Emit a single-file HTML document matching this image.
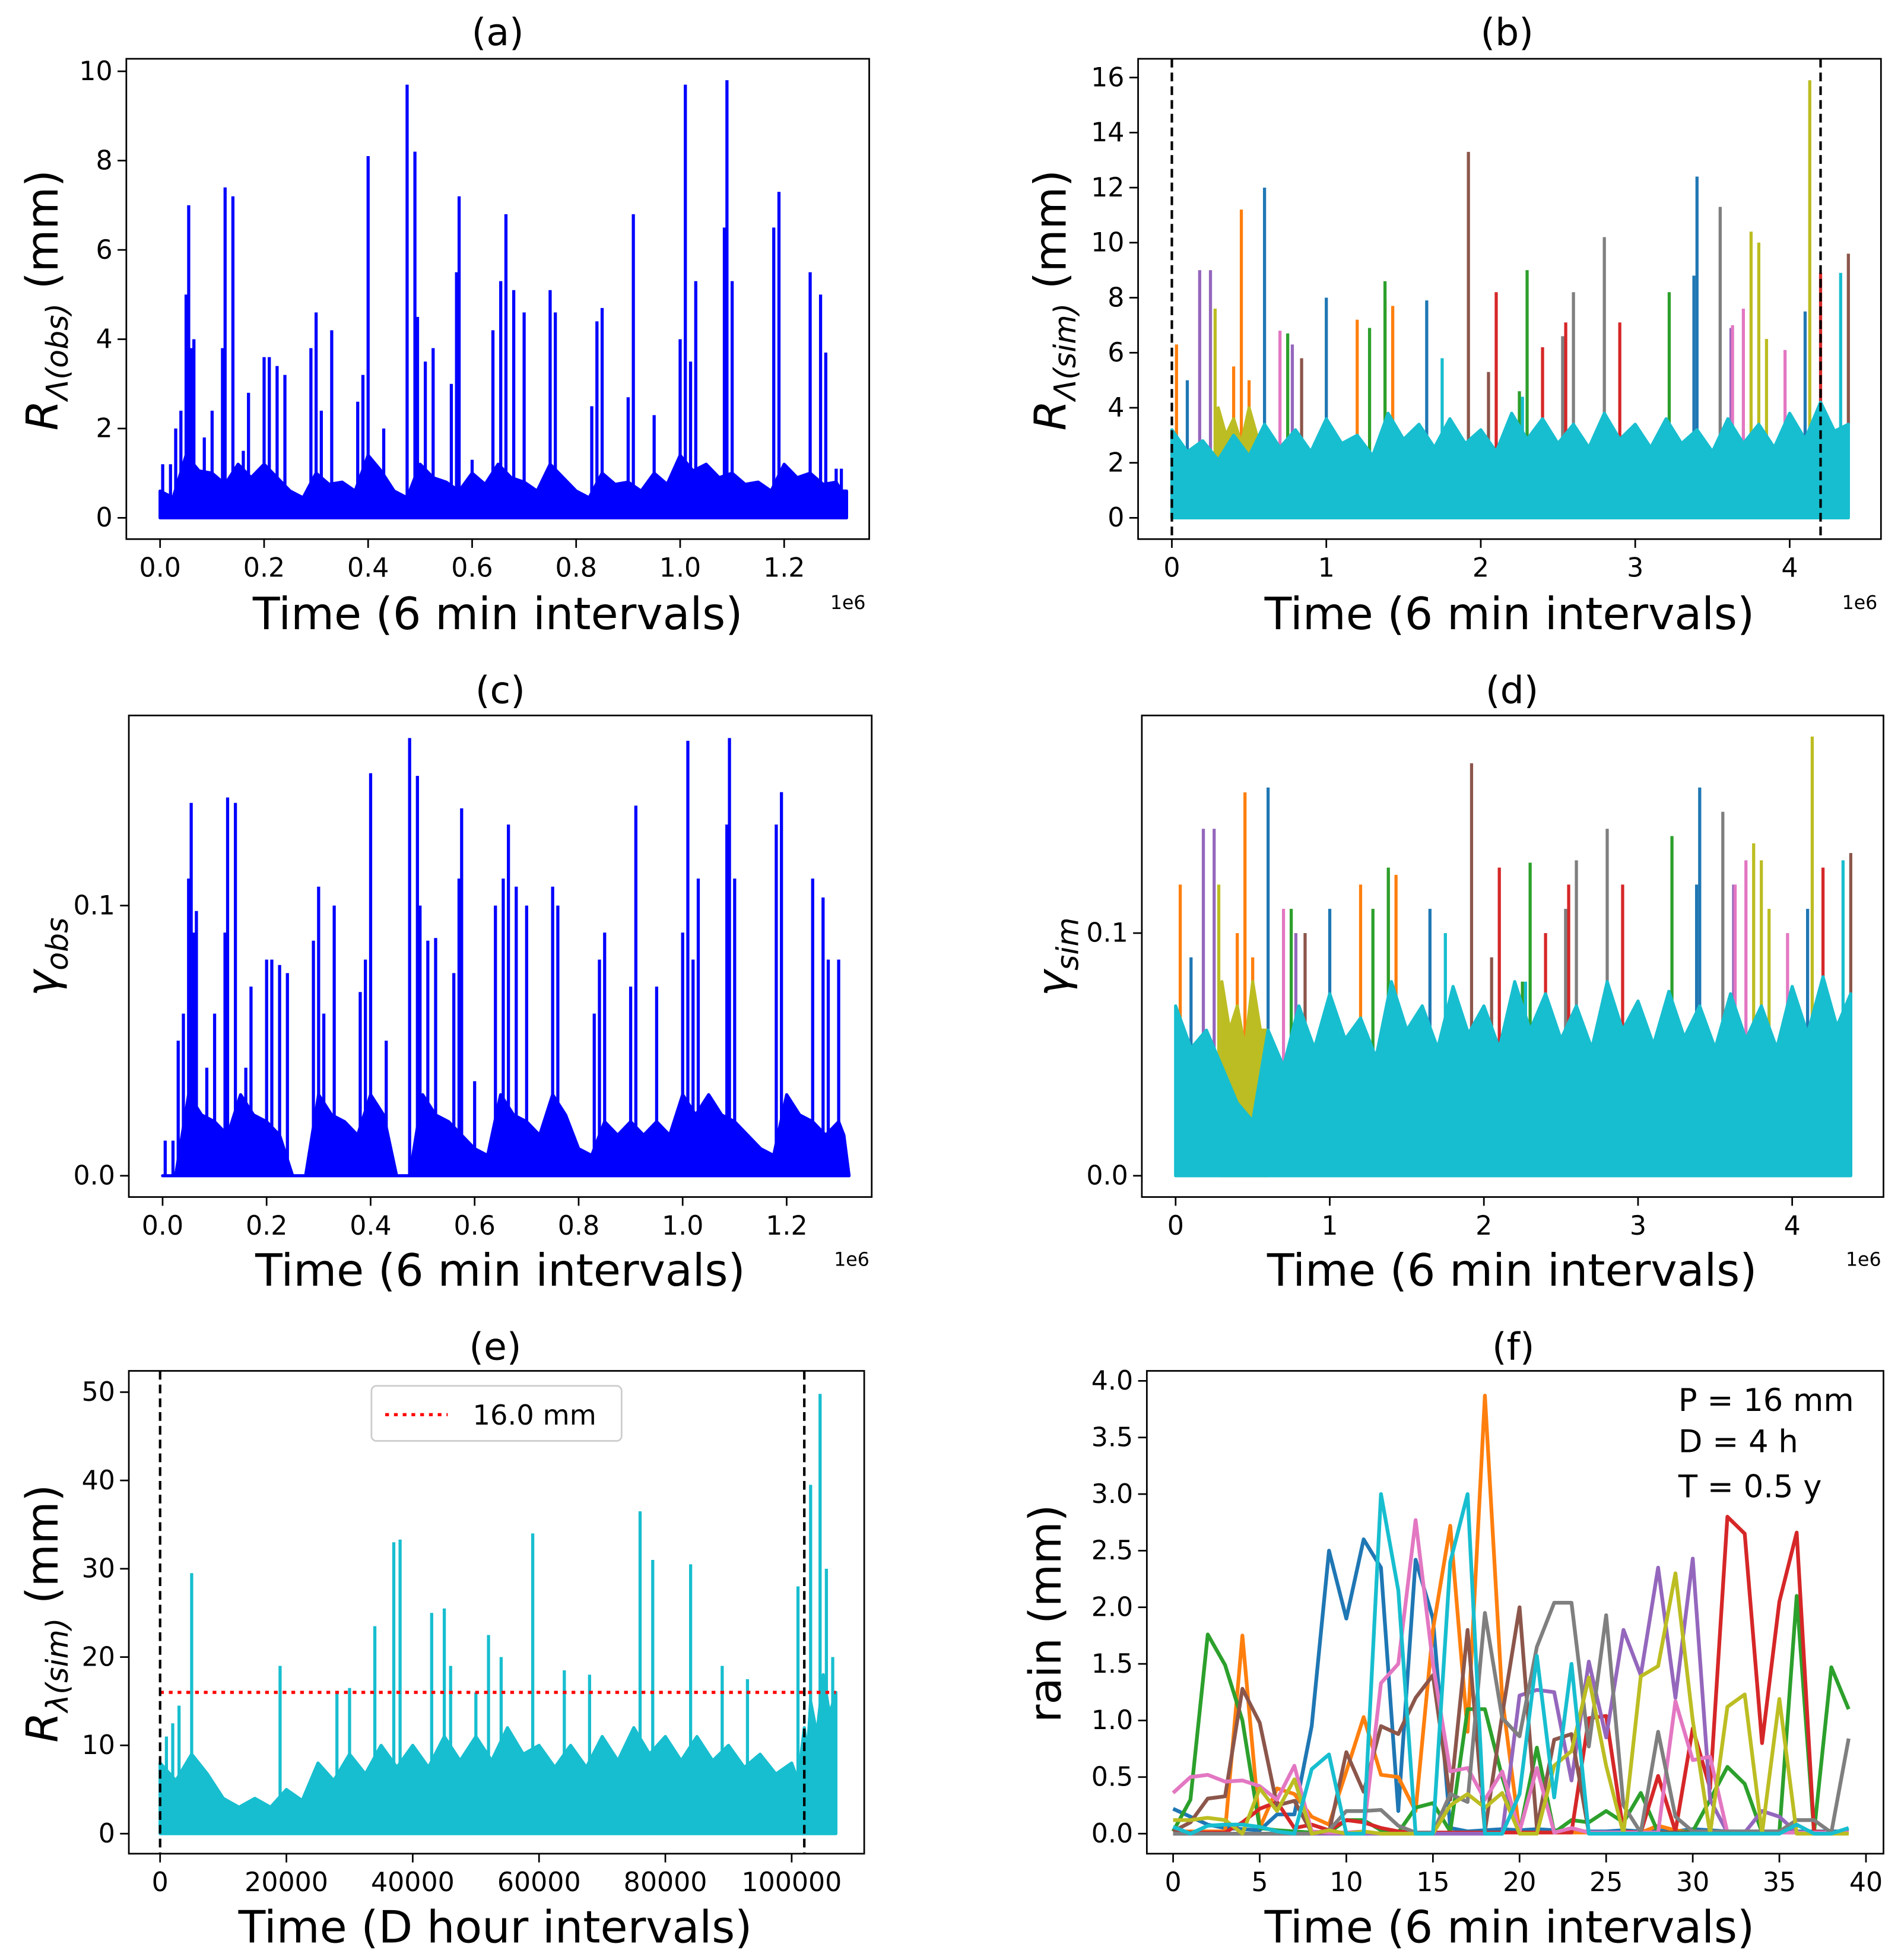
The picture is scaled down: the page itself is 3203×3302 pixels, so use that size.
<!DOCTYPE html>
<html><head><meta charset="utf-8"><style>
html,body{margin:0;padding:0;background:#fff;}
svg{display:block;font-family:"DejaVu Sans","Liberation Sans",sans-serif;}
</style></head><body>
<svg id="fig" xmlns="http://www.w3.org/2000/svg" width="3203" height="3302" viewBox="0 0 1520 1567"></svg>
<script>
// ---------- data ----------
const aX=[0.005,0.02,0.03,0.04,0.05,0.055,0.06,0.065,0.085,0.1,0.12,0.125,0.14,0.16,0.17,0.2,0.21,0.225,0.24,0.29,0.3,0.31,0.33,0.38,0.39,0.4,0.43,0.475,0.49,0.495,0.51,0.525,0.56,0.57,0.575,0.6,0.64,0.655,0.665,0.68,0.7,0.75,0.76,0.83,0.84,0.85,0.9,0.91,0.95,1.0,1.01,1.02,1.03,1.085,1.09,1.1,1.18,1.19,1.25,1.27,1.28,1.3,1.31];
const aV=[1.2,1.2,2,2.4,5,7,3.8,4,1.8,2.4,3.8,7.4,7.2,1.5,2.8,3.6,3.6,3.4,3.2,3.8,4.6,2.4,4.2,2.6,3.2,8.1,2,9.7,8.2,4.5,3.5,3.8,3,5.5,7.2,1.3,4.2,5.3,6.8,5.1,4.6,5.1,4.6,2.5,4.4,4.7,2.7,6.8,2.3,4,9.7,3.5,5.3,6.5,9.8,5.3,6.5,7.3,5.5,5,3.7,1.1,1.1];
const cV=[0.013,0.013,0.05,0.06,0.11,0.138,0.09,0.098,0.04,0.06,0.09,0.14,0.138,0.04,0.07,0.08,0.08,0.078,0.075,0.087,0.107,0.06,0.1,0.068,0.08,0.149,0.05,0.162,0.148,0.1,0.087,0.088,0.075,0.11,0.136,0.035,0.1,0.11,0.13,0.107,0.1,0.107,0.1,0.06,0.08,0.09,0.07,0.137,0.07,0.09,0.161,0.08,0.11,0.13,0.162,0.11,0.13,0.142,0.11,0.103,0.08,0.08,0.007];
const baseX=[0,0.05,0.1,0.15,0.2,0.25,0.3,0.35,0.4,0.45,0.5,0.55,0.6,0.65,0.7,0.75,0.8,0.85,0.9,0.95,1.0,1.05,1.1,1.15,1.2,1.25,1.3,1.32];
const baseA=[0.6,1.4,1.0,1.2,1.2,0.6,1.0,0.8,1.4,0.6,1.2,0.8,1.0,1.2,0.8,1.2,0.6,1.0,0.8,1.0,1.4,1.2,1.0,0.8,1.2,1.0,0.8,0.6];
const baseC=[0.0,0.03,0.02,0.03,0.02,0.0,0.03,0.02,0.03,0.0,0.03,0.02,0.01,0.03,0.02,0.03,0.01,0.02,0.02,0.02,0.03,0.03,0.02,0.01,0.03,0.02,0.02,0.0];
const colors=["#1f77b4","#ff7f0e","#2ca02c","#d62728","#9467bd","#8c564b","#e377c2","#7f7f7f","#bcbd22","#17becf"];
const bX=[[0.1,0.6,1.0,1.65,3.38,3.4,4.1],[0.03,0.4,0.45,0.5,1.2,1.38,1.43],[0.75,1.28,1.38,2.25,2.3,3.22],[2.1,2.4,2.55,2.9,4.2],[0.18,0.25,0.78,3.62],[0.84,1.92,2.05,4.38],[0.7,3.63,3.7,3.97],[2.53,2.6,2.8,3.55],[0.28,3.75,3.8,3.85,4.13],[1.75,2.27,4.33]];
const bV=[[5,12,8,7.9,8.8,12.4,7.5],[6.3,5.5,11.2,5,7.2,7.9,7.7],[6.7,6.9,8.6,4.6,9,8.2],[8.2,6.2,7.1,7.1,8.9],[9,9,6.3,6.9],[5.8,13.3,5.3,9.6],[6.8,7,7.6,6.1],[6.6,8.2,10.2,11.3],[7.6,10.4,10,6.5,15.9],[5.8,4.4,8.9]];
const dV=[[0.09,0.16,0.11,0.11,0.12,0.16,0.11],[0.12,0.1,0.158,0.09,0.12,0.125,0.124],[0.11,0.11,0.127,0.08,0.129,0.14],[0.127,0.1,0.12,0.12,0.127],[0.143,0.143,0.1,0.12],[0.1,0.17,0.09,0.133],[0.11,0.12,0.13,0.1],[0.11,0.13,0.143,0.15],[0.12,0.137,0.13,0.11,0.181],[0.1,0.08,0.13]];
const simX=[0,0.2,0.4,0.6,0.8,1.0,1.2,1.4,1.6,1.8,2.0,2.2,2.4,2.6,2.8,3.0,3.2,3.4,3.6,3.8,4.0,4.2,4.38];
const simB=[3.2,2.8,3.0,3.4,3.2,3.6,3.0,3.8,3.4,3.6,3.2,3.8,3.6,3.4,3.8,3.4,3.6,3.2,3.6,3.4,3.8,4.2,3.4];
const simD=[0.07,0.06,0.03,0.06,0.07,0.075,0.065,0.08,0.07,0.078,0.07,0.08,0.075,0.07,0.08,0.072,0.076,0.07,0.075,0.07,0.078,0.082,0.075];
const eX=[1,2,3,5,19,28,30,34,37,38,43,45,46,50,52,54,59,64,68,76,78,84,89,93,101,103,104.5,105.5,106.5];
const eV=[11,12.5,14.5,29.5,19,16,16.5,23.5,33,33.3,25,25.5,19,16,22.5,20,34,18.5,18,36.5,31,30.5,19,17.5,28,39.5,49.8,30,20];
const eBX=[0,5,10,15,20,25,30,35,40,45,50,55,60,65,70,75,80,85,90,95,100,102,103,105,107];
const eBV=[8,9,4,4,5,8,9,10,10,11,11,12,10,10,11,12,11,11,10,9,8,12,15,18,16];
const fX=[...Array(40).keys()];
const fY=[
[0.22,0.15,0.08,0.05,0.04,0.03,0.17,0.17,0.95,2.5,1.9,2.6,2.35,0.2,2.42,1.9,0.05,0.02,0.03,0.04,0.03,0.04,0.03,0.02,0.02,0.02,0.03,0.02,0.03,0.02,0.04,0.03,0.02,0.02,0.02,0.02,0.02,0.02,0.02,0.02],
[0.02,0.02,0.02,0.02,1.75,0.05,0.4,0.35,0.15,0.08,0.55,1.03,0.52,0.5,0.2,1.8,2.72,0.9,3.87,1.2,0.01,0.01,0.01,0.01,0.01,0.01,0.01,0.01,0.07,0.03,0.01,0.01,0.01,0.01,0.01,0.01,0.01,0.01,0.01,0.01],
[0.02,0.3,1.76,1.49,1.0,0.05,0.03,0.02,0.01,0.01,0.12,0.12,0.03,0.01,0.23,0.27,0.02,1.1,1.1,0.5,0.01,0.76,0.01,0.12,0.1,0.2,0.1,0.36,0.01,0.01,0.02,0.3,0.59,0.44,0.01,0.01,2.1,0.01,1.47,1.1],
[0.01,0.01,0.01,0.01,0.1,0.22,0.28,0.05,0.08,0.03,0.12,0.1,0.05,0.02,0.01,0.01,0.01,0.01,0.01,0.01,0.01,0.01,0.01,0.01,1.02,1.04,0.02,0.01,0.51,0.02,0.93,0.4,2.8,2.65,0.8,2.05,2.66,0.02,0.01,0.01],
[0.0,0.0,0.0,0.0,0.0,0.0,0.0,0.0,0.0,0.0,0.0,0.0,0.0,0.0,0.0,0.0,0.0,0.0,0.0,0.0,1.22,1.27,1.25,0.47,1.52,0.85,1.8,1.4,2.35,1.2,2.43,0.3,0.01,0.01,0.2,0.15,0.01,0.01,0.01,0.01],
[0.02,0.1,0.31,0.33,1.28,0.98,0.25,0.29,0.01,0.01,0.72,0.37,0.95,0.88,1.2,1.4,0.3,1.8,0.02,1.05,2.0,0.05,0.83,0.88,0.01,0.01,0.01,0.01,0.01,0.01,0.01,0.01,0.01,0.01,0.01,0.01,0.01,0.01,0.01,0.01],
[0.36,0.5,0.52,0.46,0.47,0.42,0.3,0.6,0.02,0.01,0.01,0.02,1.33,1.5,2.77,1.5,0.55,0.58,0.3,0.55,0.02,0.58,0.01,0.05,0.01,0.01,0.01,0.01,0.01,1.17,0.65,0.68,0.01,0.01,0.01,0.01,0.01,0.01,0.01,0.01],
[0.0,0.0,0.0,0.0,0.0,0.0,0.0,0.0,0.0,0.03,0.2,0.2,0.21,0.07,0.01,0.01,0.35,0.28,1.95,1.02,0.86,1.65,2.04,2.04,0.77,1.93,0.25,0.01,0.9,0.15,0.02,0.02,0.02,0.02,0.02,0.02,0.12,0.12,0.01,0.84],
[0.12,0.12,0.14,0.12,0.0,0.4,0.2,0.48,0.0,0.03,0.0,0.02,0.0,0.0,0.0,0.0,0.25,0.35,0.23,0.36,0.0,0.0,0.6,0.73,1.38,0.6,0.0,1.39,1.48,2.3,1.0,0.0,1.12,1.23,0.0,1.19,0.0,0.0,0.0,0.0],
[0.06,0.0,0.07,0.08,0.08,0.06,0.02,0.0,0.57,0.7,0.0,0.0,3.0,2.15,0.0,0.0,2.4,3.0,0.0,0.0,0.35,1.57,0.32,1.5,0.0,0.0,0.0,0.0,0.0,0.0,0.0,0.0,0.0,0.0,0.0,0.0,0.08,0.0,0.0,0.05]];
const ticksA=[0,0.2,0.4,0.6,0.8,1.0,1.2], ticksAL=["0.0","0.2","0.4","0.6","0.8","1.0","1.2"];
const ticksB=[0,1,2,3,4];
const ticksE=[0,20000,40000,60000,80000,100000], ticksEL=["0","20000","40000","60000","80000","100000"];
const ticksF=[0,5,10,15,20,25,30,35,40];

// ---------- helpers ----------
const NS="http://www.w3.org/2000/svg";
const svg=document.getElementById('fig');
const XL=35.5, YL=35;
function mk(tag,attrs,parent,text){const e=document.createElementNS(NS,tag);for(const k in attrs)e.setAttribute(k,attrs[k]);if(text!==undefined)e.textContent=text;(parent||svg).appendChild(e);return e;}
function lin(d0,d1,p0,p1){return v=>p0+(v-d0)*(p1-p0)/(d1-d0);}
function panel(name,fr,sx,sy,xt,xtl,yt,ytl){
  const g=mk('g',{});
  
  
  const plot=mk('g',{},g);
  
  
  const clip=mk('clipPath',{id:name+'-clip'},g);
  mk('rect',{x:fr[0],y:fr[1],width:fr[2]-fr[0],height:fr[3]-fr[1]},clip);
  plot.setAttribute('clip-path','url(#'+name+'-clip)');
  const axg=mk('g',{},g);
  
  
  xt.forEach((t,i)=>{const x=sx(t);
    mk('line',{x1:x,x2:x,y1:fr[3],y2:fr[3]+7,stroke:'#000','stroke-width':1.3},axg);
    const tx=mk('text',{x:x,y:fr[3]+30,'text-anchor':'middle','font-size':21},axg,xtl[i]);
    
    });
  yt.forEach((t,i)=>{const y=sy(t);
    mk('line',{x1:fr[0]-7,x2:fr[0],y1:y,y2:y,stroke:'#000','stroke-width':1.3},axg);
    const tx=mk('text',{x:fr[0]-11,y:y+7,'text-anchor':'end','font-size':21},axg,ytl[i]);
    
    });
  const f=mk('rect',{x:fr[0],y:fr[1],width:fr[2]-fr[0],height:fr[3]-fr[1],fill:'none',stroke:'#000','stroke-width':1.3},axg);
  
  
  return {g,plot,axg};
}
function txt(name,x,y,s,size,extra){const t=mk('text',Object.assign({x:x,y:y,'text-anchor':'middle','font-size':size},extra||{}),svg);t.innerHTML=s;
  
  
  return t;}
function spikes(p,sx,sy,xs,vs,color,w,name){xs.forEach((x,i)=>{const l=mk('line',{x1:sx(x),x2:sx(x),y1:sy(0),y2:sy(vs[i]),stroke:color,'stroke-width':w},p);
  
  });}
function band(p,sx,sy,xs,vs,color,name){let pts=sx(xs[0])+','+sy(0)+' ';
  xs.forEach((x,i)=>{pts+=sx(x)+','+sy(vs[i])+' ';if(i<xs.length-1){const xm=(x+xs[i+1])/2;pts+=sx(xm)+','+sy(vs[i]*0.75)+' ';}});
  pts+=sx(xs[xs.length-1])+','+sy(0);
  const pg=mk('polygon',{points:pts,fill:color,stroke:color,'stroke-width':2.5,'stroke-linejoin':'round'},p);
  
  }
function ylab(name,x,y,main,sub,unit){
  let s='<tspan font-style="italic">'+main+'</tspan><tspan font-size="24" dy="8" font-style="italic">'+sub+'</tspan>';
  if(unit) s+='<tspan dy="-8"> '+unit+'</tspan>';
  return txt(name,0,0,s,YL,{transform:'translate('+x+','+y+') rotate(-90)'});}

// ---------- (a) ----------
{const fr=[101,47,695,431],sx=lin(0,1.2,128,627),sy=lin(0,10,414,57);
 const P=panel('panel-a',fr,sx,sy,ticksA,ticksAL,[0,2,4,6,8,10],["0","2","4","6","8","10"]);
 band(P.plot,sx,sy,baseX,baseA,'#0000ff','base-fill');
 spikes(P.plot,sx,sy,aX,aV,'#0000ff',2.5,'rain-spike');
 txt('title-a',398,36,'(a)',30);
 txt('x-axis-title-a',398,503,'Time (6 min intervals)',XL);
 txt('offset-label-a',678,487,'1e6',15);
 ylab('y-axis-title-a',46,240,'R','Λ(obs)','(mm)');}
// ---------- (b) ----------
{const fr=[910,47,1504,431],sx=lin(0,4,937,1431),sy=lin(0,16,414,62);
 const P=panel('panel-b',fr,sx,sy,ticksB,["0","1","2","3","4"],[0,2,4,6,8,10,12,14,16],["0","2","4","6","8","10","12","14","16"]);
 colors.forEach((c,k)=>spikes(P.plot,sx,sy,bX[k],bV[k],c,2.5,'series-'+k+'-spike'));
 band(P.plot,sx,sy,[0.3,0.4,0.5,0.6],[4,3.6,4,3],'#bcbd22','olive-fill');
 band(P.plot,sx,sy,simX,simB,'#17becf','cyan-fill');
 [0,4.2].forEach(v=>{const l=mk('line',{x1:sx(v),x2:sx(v),y1:47,y2:431,stroke:'#000','stroke-width':2,'stroke-dasharray':'7,4'},P.plot);
  
  });
 txt('title-b',1205,36,'(b)',30);
 txt('x-axis-title-b',1207,503,'Time (6 min intervals)',XL);
 txt('offset-label-b',1487,487,'1e6',15);
 ylab('y-axis-title-b',852,240,'R','Λ(sim)','(mm)');}
// ---------- (c) ----------
{const fr=[103,572,697,957],sx=lin(0,1.2,130,629),sy=lin(0,0.1,940,724);
 const P=panel('panel-c',fr,sx,sy,ticksA,ticksAL,[0,0.1],["0.0","0.1"]);
 band(P.plot,sx,sy,baseX,baseC,'#0000ff','base-fill');
 spikes(P.plot,sx,sy,aX,cV,'#0000ff',2.5,'gamma-spike');
 txt('title-c',400,562,'(c)',30);
 txt('x-axis-title-c',400,1028,'Time (6 min intervals)',XL);
 txt('offset-label-c',681,1012,'1e6',15);
 ylab('y-axis-title-c',46,765,'γ','obs','');}
// ---------- (d) ----------
{const fr=[913,572,1506,957],sx=lin(0,4,940,1433),sy=lin(0,0.1,940,746);
 const P=panel('panel-d',fr,sx,sy,ticksB,["0","1","2","3","4"],[0,0.1],["0.0","0.1"]);
 colors.forEach((c,k)=>spikes(P.plot,sx,sy,bX[k],dV[k],c,2.5,'series-'+k+'-spike'));
 band(P.plot,sx,sy,[0.3,0.4,0.5,0.6],[0.08,0.07,0.08,0.06],'#bcbd22','olive-fill');
 band(P.plot,sx,sy,simX,simD,'#17becf','cyan-fill');
 txt('title-d',1209,562,'(d)',30);
 txt('x-axis-title-d',1209,1028,'Time (6 min intervals)',XL);
 txt('offset-label-d',1490,1012,'1e6',15);
 ylab('y-axis-title-d',854,765,'γ','sim','');}
// ---------- (e) ----------
{const fr=[103,1096,691,1482],sx=lin(0,100000,128,633),sy=lin(0,50,1466,1113);
 const P=panel('panel-e',fr,sx,sy,ticksE,ticksEL,[0,10,20,30,40,50],["0","10","20","30","40","50"]);
 band(P.plot,sx,sy,eBX.map(v=>v*1000),eBV,'#17becf','cyan-fill');
 spikes(P.plot,sx,sy,eX.map(v=>v*1000),eV,'#17becf',2.5,'rain-spike');
 const th=mk('line',{x1:sx(0),x2:sx(107000),y1:sy(16),y2:sy(16),stroke:'#ff0000','stroke-width':2.5,'stroke-dasharray':'3,4'},P.plot);
 
 
 [0,102000].forEach(v=>{const l=mk('line',{x1:sx(v),x2:sx(v),y1:1096,y2:1482,stroke:'#000','stroke-width':2,'stroke-dasharray':'7,4'},P.plot);
  
  });
 const lg=mk('g',{});
 
 
 mk('rect',{x:297,y:1108,width:200,height:44,rx:4,fill:'#fff',stroke:'#ccc','stroke-width':1.3},lg);
 mk('line',{x1:308,x2:358,y1:1131,y2:1131,stroke:'#ff0000','stroke-width':2.5,'stroke-dasharray':'3,4'},lg);
 const lt=mk('text',{x:378,y:1139,'font-size':22},lg,'16.0 mm');
 
 
 txt('title-e',396,1087,'(e)',30);
 txt('x-axis-title-e',396,1553,'Time (D hour intervals)',XL);
 ylab('y-axis-title-e',46,1290,'R','λ(sim)','(mm)');}
// ---------- (f) ----------
{const fr=[917,1096,1506,1482],sx=lin(0,40,938,1492),sy=lin(0,4,1466,1104);
 const P=panel('panel-f',fr,sx,sy,ticksF,ticksF.map(String),[0,0.5,1,1.5,2,2.5,3,3.5,4],["0.0","0.5","1.0","1.5","2.0","2.5","3.0","3.5","4.0"]);
 colors.forEach((c,k)=>{const pl=mk('polyline',{points:fX.map((x,i)=>sx(x)+','+sy(fY[k][i])).join(' '),fill:'none',stroke:c,'stroke-width':3,'stroke-linejoin':'round'},P.plot);
  
  });
 txt('annot-p',1342,1128,'P = 16 mm',25,{'text-anchor':'start'});
 txt('annot-d',1342,1161,'D = 4 h',25,{'text-anchor':'start'});
 txt('annot-t',1342,1197,'T = 0.5 y',25,{'text-anchor':'start'});
 txt('title-f',1210,1087,'(f)',30);
 txt('x-axis-title-f',1207,1553,'Time (6 min intervals)',XL);
 txt('y-axis-title-f',0,0,'rain (mm)',YL,{transform:'translate(848,1290) rotate(-90)'});}
</script>
</body></html>
